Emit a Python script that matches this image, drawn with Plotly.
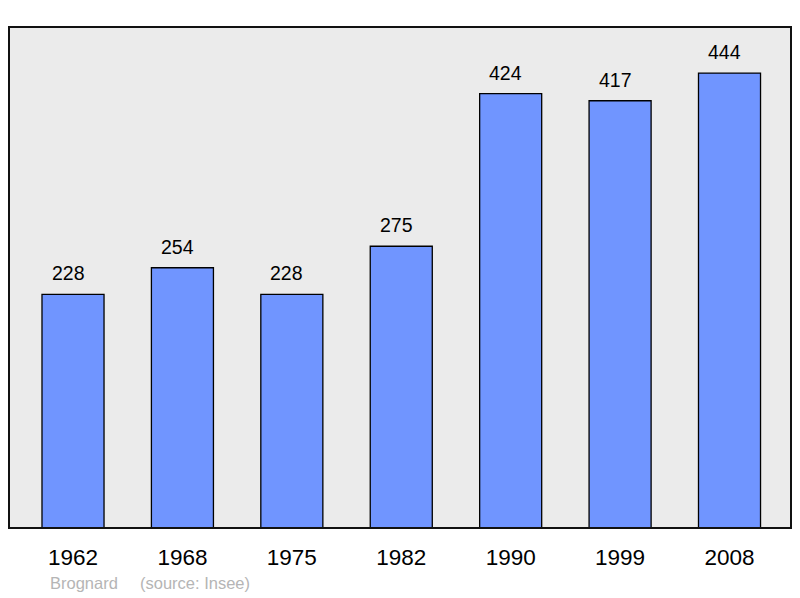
import plotly.graph_objects as go

years = ["1962", "1968", "1975", "1982", "1990", "1999", "2008"]
population = [228, 254, 228, 275, 424, 417, 444]
commune = "Brognard"
source = "(source: Insee)"

xs = list(range(len(years)))

# page body has an 8px margin, so the figure is sized to fit inside it
W, H = 792, 590
L, T, R, B = 1, 19, 9, 70
pw, ph = W - L - R, H - T - B

fig = go.Figure()
fig.add_trace(go.Bar(
    x=xs, y=population, width=0.567,
    marker=dict(color="#7095ff", line=dict(color="#000000", width=1.3)),
    hoverinfo="skip",
))
for x, v in zip(xs, population):
    fig.add_annotation(x=x, y=v, text=str(v), showarrow=False, yanchor="bottom",
                       yshift=8, xshift=-5,
                       font=dict(family="Liberation Sans, Arial", size=19.5, color="#000"))

fig.add_annotation(xref="paper", yref="paper", x=(48 - 9) / pw, y=-(583 - 528) / ph,
                   xanchor="left", yanchor="middle", showarrow=False, text=commune,
                   font=dict(family="Liberation Sans, Arial", size=16.5, color="#b5b5b5"))
fig.add_annotation(xref="paper", yref="paper", x=(138 - 9) / pw, y=-(583 - 528) / ph,
                   xanchor="left", yanchor="middle", showarrow=False, text=source,
                   font=dict(family="Liberation Sans, Arial", size=16.5, color="#b5b5b5"))

fig.add_shape(type="rect", xref="paper", yref="paper", x0=0, y0=0, x1=1, y1=1,
              line=dict(color="#111", width=2), layer="above")

fig.update_layout(
    width=W, height=H,
    margin=dict(l=L, r=R, t=T, b=B),
    paper_bgcolor="white", plot_bgcolor="#ebebeb",
    showlegend=False,
    xaxis=dict(range=[-0.585, 6.562], tickvals=xs, ticktext=years, showgrid=False,
               zeroline=False, ticks="", ticklabelstandoff=13,
               tickfont=dict(family="Liberation Sans, Arial", size=22.5, color="#000")),
    yaxis=dict(range=[0, 489], showgrid=False, zeroline=False, showticklabels=False, ticks=""),
)
fig.write_html("out.html")
